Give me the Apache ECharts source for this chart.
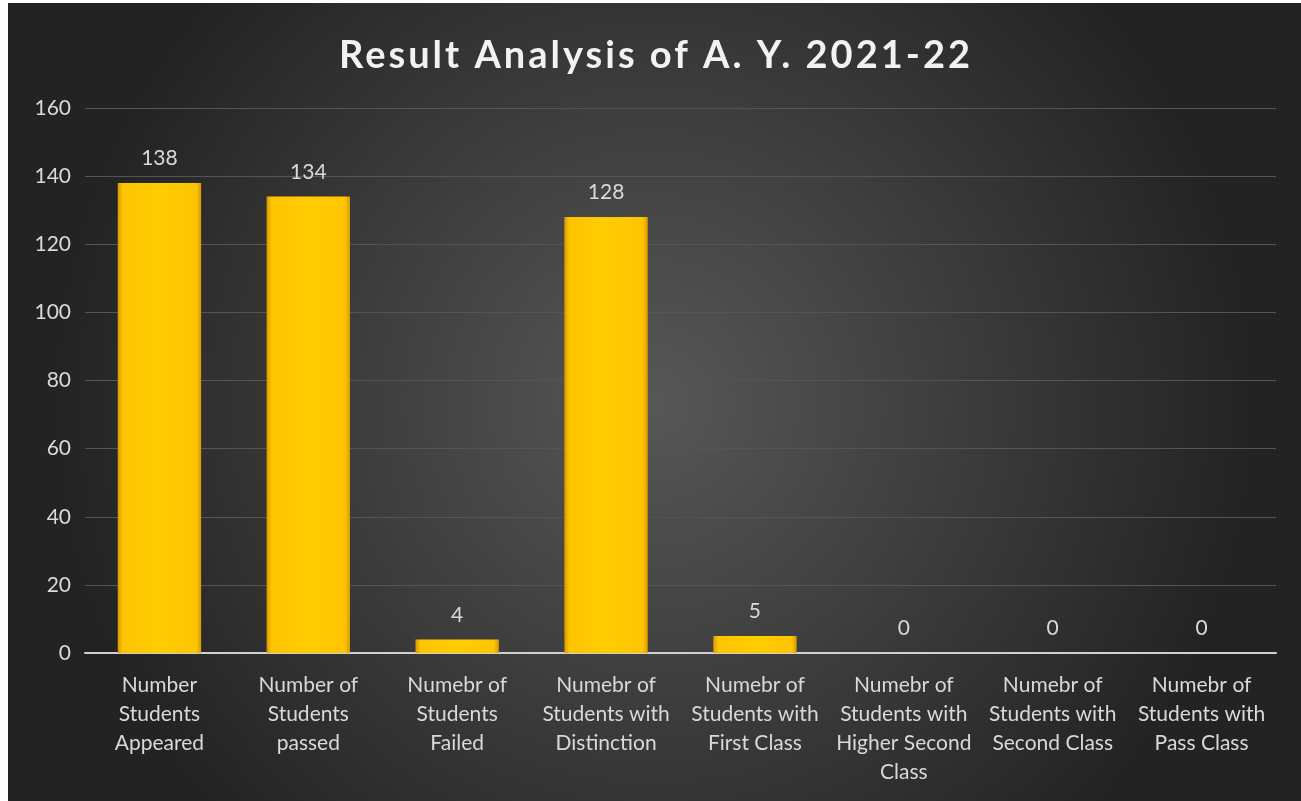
<!DOCTYPE html>
<html>
<head>
<meta charset="utf-8">
<script src="https://cdn.jsdelivr.net/npm/echarts@6/dist/echarts.min.js"></script>
<style>
html,body{margin:0;padding:0;background:#ffffff;}
#chart{position:absolute;left:8px;top:3px;width:1293px;height:798px;}
</style>
</head>
<body>
<div id="chart"></div>
<script>
const titleText = 'Result Analysis of A. Y. 2021-22';
const categories = [
  'Number\nStudents\nAppeared',
  'Number of\nStudents\npassed',
  'Numebr of\nStudents\nFailed',
  'Numebr of\nStudents with\nDistinction',
  'Numebr of\nStudents with\nFirst Class',
  'Numebr of\nStudents with\nHigher Second\nClass',
  'Numebr of\nStudents with\nSecond Class',
  'Numebr of\nStudents with\nPass Class'
];
const values = [138, 134, 4, 128, 5, 0, 0, 0];
const yMin = 0, yMax = 160, yInterval = 20;

// letter-spaced title (as in the reference)
(function () {
  const proto = CanvasRenderingContext2D.prototype;
  const orig = proto.fillText;
  proto.fillText = function (t, x, y, w) {
    if (t === titleText && 'letterSpacing' in this) {
      const prev = this.letterSpacing;
      this.letterSpacing = '3px';
      const r = orig.call(this, t, x, y, w);
      this.letterSpacing = prev;
      return r;
    }
    return orig.call(this, t, x, y, w);
  };
})();

const chart = echarts.init(document.getElementById('chart'));
const font = 'Lato, "Open Sans", sans-serif';
chart.setOption({
  backgroundColor: {
    type: 'radial', x: 0.5, y: 0.5, r: 0.75,
    colorStops: [
      {offset: 0, color: '#575757'},
      {offset: 1, color: '#232323'}
    ]
  },
  title: {
    text: titleText, left: 326, top: 29,
    textStyle: {color: '#f2f2f2', fontSize: 38, fontWeight: 'bold', fontFamily: font}
  },
  grid: {left: 77, right: 25, top: 105, bottom: 148, containLabel: false},
  xAxis: {
    type: 'category', data: categories,
    axisTick: {show: false},
    axisLine: {lineStyle: {color: '#d0d0d0', width: 2}},
    axisLabel: {color: '#d9d9d9', fontSize: 21, fontFamily: font, lineHeight: 29, margin: 18, interval: 0}
  },
  yAxis: {
    type: 'value', min: yMin, max: yMax, interval: yInterval,
    axisLine: {show: false}, axisTick: {show: false},
    axisLabel: {color: '#d9d9d9', fontSize: 21, fontFamily: font, margin: 14},
    splitLine: {lineStyle: {color: '#555555', width: 1}}
  },
  series: [{
    type: 'bar', data: values, barCategoryGap: '44%',
    itemStyle: {
      color: {
        type: 'linear', x: 0, y: 0, x2: 1, y2: 0,
        colorStops: [
          {offset: 0, color: '#d99a00'},
          {offset: 0.06, color: '#ffc400'},
          {offset: 0.5, color: '#ffcc00'},
          {offset: 0.94, color: '#ffc400'},
          {offset: 1, color: '#d99a00'}
        ]
      }
    },
    label: {
      show: true, position: 'top', distance: 14,
      color: '#d9d9d9', fontSize: 21, fontFamily: font
    }
  }]
});
</script>
</body>
</html>
